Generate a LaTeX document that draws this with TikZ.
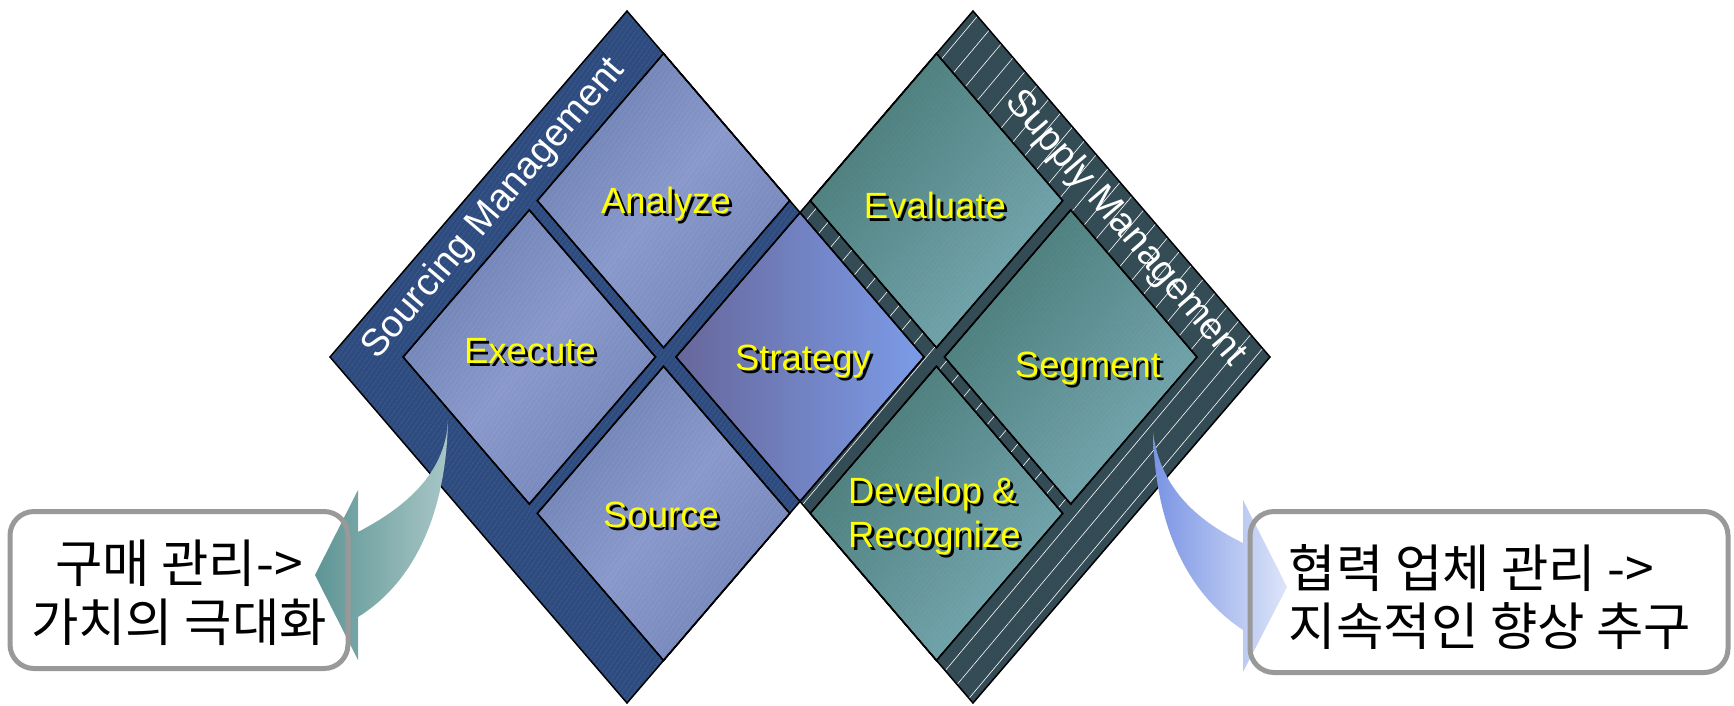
\documentclass[tikz,border=0pt]{standalone}
\usepackage{fontspec}
\setmainfont{Liberation Sans}
\newfontfamily\krfont{Noto Sans CJK KR}
\usetikzlibrary{patterns.meta}

\definecolor{Lband}{HTML}{2D4B7F}
\definecolor{Rband}{HTML}{344C55}
\definecolor{LcellA}{HTML}{6D7FB2}
\definecolor{LcellM}{HTML}{8898CB}
\definecolor{LcellB}{HTML}{7384B8}
\definecolor{RcellA}{HTML}{4A7C79}
\definecolor{RcellB}{HTML}{78AAB4}
\definecolor{StratL}{HTML}{67679B}
\definecolor{StratR}{HTML}{7C9CE8}
\definecolor{boxgray}{HTML}{999999}
\definecolor{lblyellow}{HTML}{FFFF00}
\definecolor{ArrLdark}{HTML}{5E9595}
\definecolor{ArrLlight}{HTML}{A8C6C6}
\definecolor{ArrRdark}{HTML}{7A94E4}
\definecolor{ArrRlight}{HTML}{DDE5F9}

\begin{document}
\begin{tikzpicture}[x=1pt,y=-1pt,
  edge/.style={draw=black,line width=1.5pt,line join=miter},
  lcell/.style={edge,top color=LcellA,bottom color=LcellB,middle color=LcellM,shading angle=49.4},
  rcell/.style={edge,top color=RcellA,bottom color=RcellB,shading angle=49.4},
  lbl/.style={text=lblyellow,inner sep=0pt,font=\fontsize{36.5}{44}\selectfont},
  lblshadow/.style={lbl,text=black,xshift=3pt,yshift=-3pt},
  bandtxt/.style={text=white,inner sep=0pt,font=\fontsize{38}{44}\selectfont},
  callbox/.style={draw=boxgray,line width=5pt,rounded corners=24pt,inner sep=0pt},
  krtxt/.style={text=black,inner sep=0pt,font=\krfont\fontsize{51.5}{58.5}\selectfont}]

\useasboundingbox (0,0) rectangle (1734,705);

% ---------- left big diamond (Sourcing) ----------
\begin{scope}[shift={(627,11)},x={(-297pt,-346pt)},y={(297pt,-346pt)}]
  \fill[Lband] (0,0)--(1,0)--(1,1)--(0,1)--cycle;
  \shade[lcell] (0,.123)--(.425,.123)--(.425,.548)--(0,.548)--cycle;
  \shade[lcell] (.452,.123)--(.877,.123)--(.877,.548)--(.452,.548)--cycle;
  \shade[lcell] (.452,.575)--(.877,.575)--(.877,1)--(.452,1)--cycle;
  \fill[pattern={Lines[angle=55,distance=4pt,line width=0.5pt]},pattern color=white,fill opacity=0.2]
    (0,0)--(1,0)--(1,1)--(0,1)--cycle;
\end{scope}

% ---------- right big diamond (Supply) ----------
\begin{scope}[shift={(973,11)},x={(297pt,-346pt)},y={(-297pt,-346pt)}]
  \fill[Rband] (0,0)--(1,0)--(1,1)--(0,1)--cycle;
  \fill[pattern={Lines[angle=50,distance=18pt,line width=0.6pt]},pattern color=white,fill opacity=0.07]
    (0,0)--(1,0)--(1,1)--(0,1)--cycle;
  \shade[rcell] (0,.123)--(.425,.123)--(.425,.548)--(0,.548)--cycle;
  \shade[rcell] (.452,.123)--(.877,.123)--(.877,.548)--(.452,.548)--cycle;
  \shade[rcell] (.452,.575)--(.877,.575)--(.877,1)--(.452,1)--cycle;
  \fill[pattern={Lines[angle=50,distance=4pt,line width=0.5pt]},pattern color=black,fill opacity=0.08]
    (0,0)--(1,0)--(1,1)--(0,1)--cycle;
\end{scope}

% ---------- Strategy + outlines ----------
\begin{scope}[shift={(627,11)},x={(-297pt,-346pt)},y={(297pt,-346pt)}]
  \shade[left color=StratL,right color=StratR] (0,.5825)--(.4175,.5825)--(.4175,1)--(0,1)--cycle;
  \draw[edge] (0,.5825)--(.4175,.5825)--(.4175,1)--(0,1)--cycle;
  \draw[edge] (0,0)--(1,0)--(1,1)--(0,1)--cycle;
  \draw[edge] (0,.123)--(.425,.123)--(.425,.548)--(0,.548)--cycle;
  \draw[edge] (.452,.123)--(.877,.123)--(.877,.548)--(.452,.548)--cycle;
  \draw[edge] (.452,.575)--(.877,.575)--(.877,1)--(.452,1)--cycle;
  \node[bandtxt,rotate=49.4] (srcmgmt) at (.51,.062) {Sourcing Management};
\end{scope}
\begin{scope}[shift={(973,11)},x={(297pt,-346pt)},y={(-297pt,-346pt)}]
  \draw[edge] (0,0)--(1,0)--(1,1)--(0,1)--cycle;
  \draw[edge] (0,.123)--(.425,.123)--(.425,.548)--(0,.548)--cycle;
  \draw[edge] (.452,.123)--(.877,.123)--(.877,.548)--(.452,.548)--cycle;
  \draw[edge] (.452,.575)--(.877,.575)--(.877,1)--(.452,1)--cycle;
  \node[bandtxt,rotate=-49.4] (supmgmt) at (.571,.058) {Supply Management};
\end{scope}

% ---------- yellow labels ----------
\node[lblshadow,anchor=base] at (666,213) {Analyze};
\node[lbl,anchor=base] (analyze) at (666,213) {Analyze};
\node[lblshadow,anchor=base] at (530,363) {Execute};
\node[lbl,anchor=base] (execute) at (530,363) {Execute};
\node[lblshadow,anchor=base] at (661,527) {Source};
\node[lbl,anchor=base] (source) at (661,527) {Source};
\node[lblshadow,anchor=base] at (803,370) {Strategy};
\node[lbl,anchor=base] (strategy) at (803,370) {Strategy};
\node[lblshadow,anchor=base] at (935,218) {Evaluate};
\node[lbl,anchor=base] (evaluate) at (935,218) {Evaluate};
\node[lblshadow,anchor=base] at (1088,377) {Segment};
\node[lbl,anchor=base] (segment) at (1088,377) {Segment};
\node[lblshadow,anchor=west,align=left] at (848,516) {Develop \&\\Recognize};
\node[lbl,anchor=west,align=left] (develop) at (848,516) {Develop \&\\Recognize};

% ---------- curved arrows ----------
\shade[left color=ArrLdark,right color=ArrLlight]
  (448,420) .. controls (446,520) and (410,585) .. (358,617)
  -- (358,660) -- (315,575) -- (358,490) -- (358,532)
  .. controls (410,505) and (446,470) .. (448,420) -- cycle;
\shade[left color=ArrRdark,right color=ArrRlight]
  (1153,432) .. controls (1155,530) and (1190,595) .. (1243,630)
  -- (1243,672) -- (1287,587) -- (1243,500) -- (1243,543)
  .. controls (1200,522) and (1160,490) .. (1153,432) -- cycle;

% ---------- callout boxes ----------
\node[callbox,minimum width=338pt,minimum height=157pt] (leftbox) at (179,590) {};
\node[krtxt,align=center] (lefttext) at (179,593) {구매 관리->\\가치의 극대화};
\node[callbox,minimum width=478pt,minimum height=161pt] (rightbox) at (1489,592) {};
\node[krtxt,align=left] (righttext) at (1490,597) {협력 업체 관리 ->\\지속적인 향상 추구};
\end{tikzpicture}
\end{document}
